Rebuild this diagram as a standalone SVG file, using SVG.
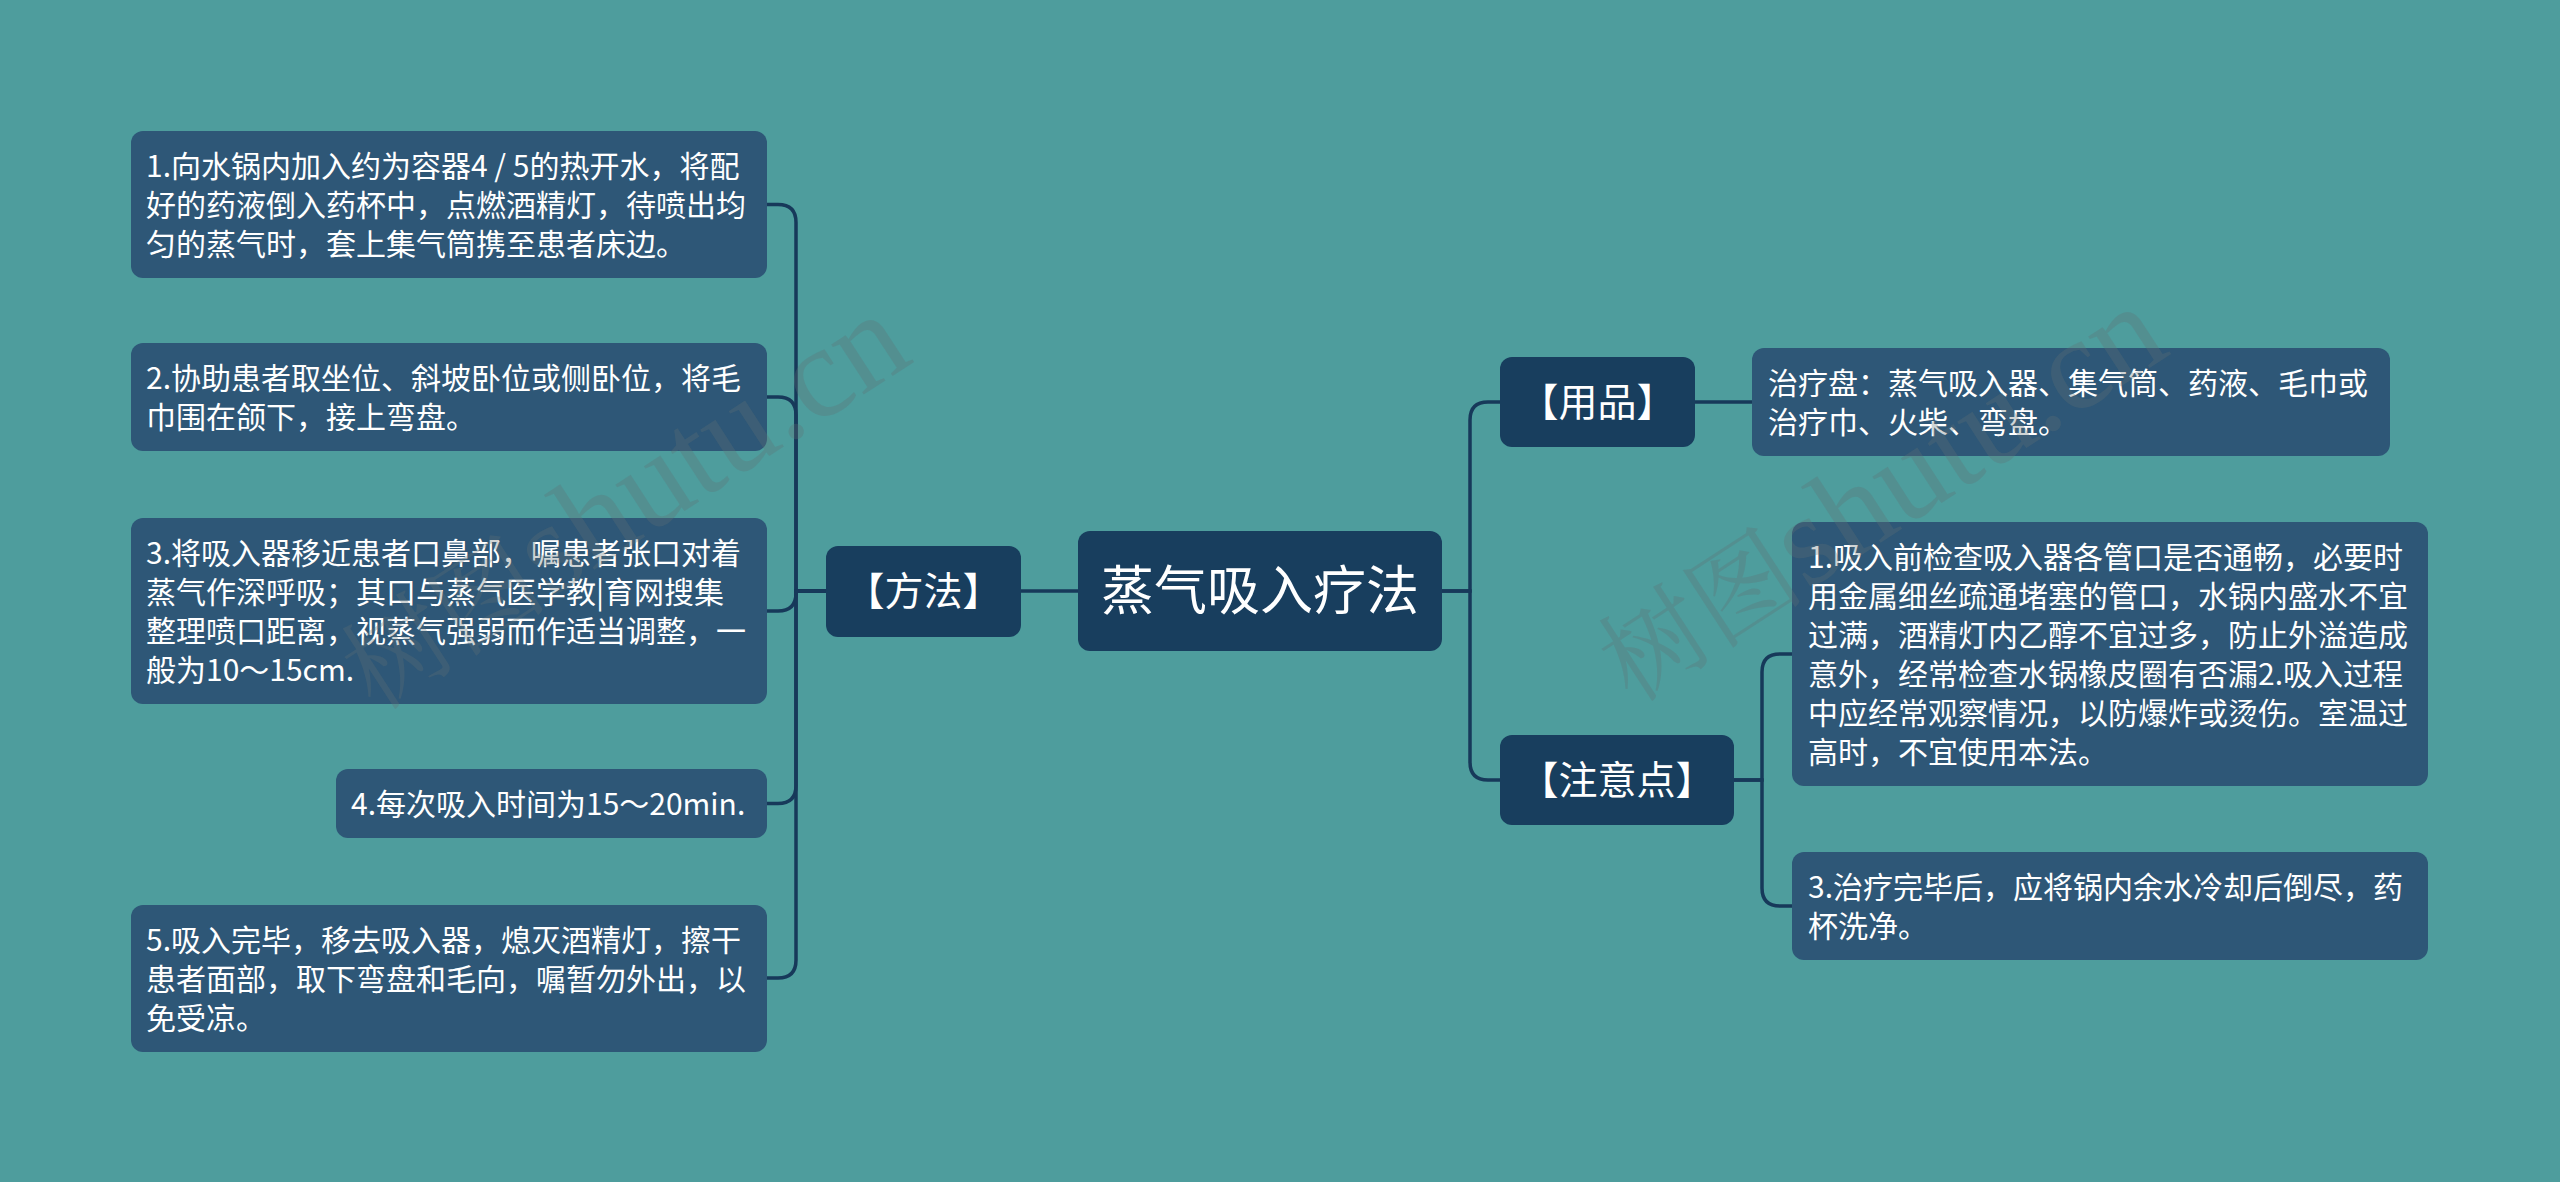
<svg xmlns="http://www.w3.org/2000/svg" width="2560" height="1182" viewBox="0 0 2560 1182">
<style>
.bg{fill:#4e9d9d}
.root{fill:#183e5e}
.l1{fill:#183e5e}
.leaf{fill:#2e5777}
.t{font-family:"Noto Sans CJK SC","Noto Sans",sans-serif;fill:#ffffff}
.tb{font-size:30px}
.tl1{font-size:39px;text-anchor:middle}
.tr{font-size:53px;text-anchor:middle}
.conn path{fill:none;stroke:#17395a;stroke-width:3.5}
.wm{font-family:"Liberation Serif","Noto Serif CJK SC","Noto Sans CJK SC",serif;font-size:130px;fill:#5f6f74;fill-opacity:0.3}
.wmc{font-size:104px}
</style>
<rect class="bg" x="0" y="0" width="2560" height="1182"/>

<g id="connectors" class="conn">
  <path d="M1078 591 H1021"/>
  <path d="M826 591 H796 V222.5 Q796 204.5 778 204.5 H767"/>
  <path d="M826 591 H796 V415 Q796 397 778 397 H767"/>
  <path d="M826 591 H796 V593 Q796 611 778 611 H767"/>
  <path d="M826 591 H796 V785.5 Q796 803.5 778 803.5 H767"/>
  <path d="M826 591 H796 V960 Q796 978 778 978 H767"/>
  <path d="M1442 591 H1470 V420 Q1470 402 1488 402 H1500"/>
  <path d="M1442 591 H1470 V762 Q1470 780 1488 780 H1500"/>
  <path d="M1695 402 H1752"/>
  <path d="M1734 780 H1762 V672 Q1762 654 1780 654 H1792"/>
  <path d="M1734 780 H1762 V888 Q1762 906 1780 906 H1792"/>
</g>

<g id="root">
  <rect class="root" x="1078" y="531" width="364" height="120" rx="12"/>
  <text class="t tr" x="1260" y="610">蒸气吸入疗法</text>
</g>

<g id="fangfa">
  <rect class="l1" x="826" y="546" width="195" height="91" rx="12"/>
  <text class="t tl1" x="923.5" y="605">【方法】</text>
</g>

<g id="yongpin">
  <rect class="l1" x="1500" y="357" width="195" height="90" rx="12"/>
  <text class="t tl1" x="1597.5" y="416">【用品】</text>
</g>

<g id="zhuyidian">
  <rect class="l1" x="1500" y="735" width="234" height="90" rx="12"/>
  <text class="t tl1" x="1617" y="794">【注意点】</text>
</g>

<g id="m1">
  <rect class="leaf" x="131" y="131" width="636" height="147" rx="12"/>
  <text class="t tb" x="146" y="176.5">1.向水锅内加入约为容器4 / 5的热开水，将配</text>
  <text class="t tb" x="146" y="215.5">好的药液倒入药杯中，点燃酒精灯，待喷出均</text>
  <text class="t tb" x="146" y="254.5">匀的蒸气时，套上集气筒携至患者床边。</text>
</g>

<g id="m2">
  <rect class="leaf" x="131" y="343" width="636" height="108" rx="12"/>
  <text class="t tb" x="146" y="388.5">2.协助患者取坐位、斜坡卧位或侧卧位，将毛</text>
  <text class="t tb" x="146" y="427.5">巾围在颌下，接上弯盘。</text>
</g>

<g id="m3">
  <rect class="leaf" x="131" y="518" width="636" height="186" rx="12"/>
  <text class="t tb" x="146" y="563.5">3.将吸入器移近患者口鼻部，嘱患者张口对着</text>
  <text class="t tb" x="146" y="602.5">蒸气作深呼吸；其口与蒸气医学教|育网搜集</text>
  <text class="t tb" x="146" y="641.5">整理喷口距离，视蒸气强弱而作适当调整，一</text>
  <text class="t tb" x="146" y="680.5">般为10～15cm.</text>
</g>

<g id="m4">
  <rect class="leaf" x="336" y="769" width="431" height="69" rx="12"/>
  <text class="t tb" x="351" y="814.5">4.每次吸入时间为15～20min.</text>
</g>

<g id="m5">
  <rect class="leaf" x="131" y="905" width="636" height="147" rx="12"/>
  <text class="t tb" x="146" y="950.5">5.吸入完毕，移去吸入器，熄灭酒精灯，擦干</text>
  <text class="t tb" x="146" y="989.5">患者面部，取下弯盘和毛向，嘱暂勿外出，以</text>
  <text class="t tb" x="146" y="1028.5">免受凉。</text>
</g>

<g id="y1">
  <rect class="leaf" x="1752" y="348" width="638" height="108" rx="12"/>
  <text class="t tb" x="1768" y="393.5">治疗盘：蒸气吸入器、集气筒、药液、毛巾或</text>
  <text class="t tb" x="1768" y="432.5">治疗巾、火柴、弯盘。</text>
</g>

<g id="z1">
  <rect class="leaf" x="1792" y="522" width="636" height="264" rx="12"/>
  <text class="t tb" x="1808" y="567.5">1.吸入前检查吸入器各管口是否通畅，必要时</text>
  <text class="t tb" x="1808" y="606.5">用金属细丝疏通堵塞的管口，水锅内盛水不宜</text>
  <text class="t tb" x="1808" y="645.5">过满，酒精灯内乙醇不宜过多，防止外溢造成</text>
  <text class="t tb" x="1808" y="684.5">意外，经常检查水锅橡皮圈有否漏2.吸入过程</text>
  <text class="t tb" x="1808" y="723.5">中应经常观察情况，以防爆炸或烫伤。室温过</text>
  <text class="t tb" x="1808" y="762.5">高时，不宜使用本法。</text>
</g>

<g id="z2">
  <rect class="leaf" x="1792" y="852" width="636" height="108" rx="12"/>
  <text class="t tb" x="1808" y="897.5">3.治疗完毕后，应将锅内余水冷却后倒尽，药</text>
  <text class="t tb" x="1808" y="936.5">杯洗净。</text>
</g>

<g id="watermark">
  <text class="wm" x="375" y="712" transform="rotate(-33 375 712)"><tspan class="wmc">树图</tspan>shutu.cn</text>
  <text class="wm" x="1632" y="704" transform="rotate(-33 1632 704)"><tspan class="wmc">树图</tspan>shutu.cn</text>
</g>
</svg>
